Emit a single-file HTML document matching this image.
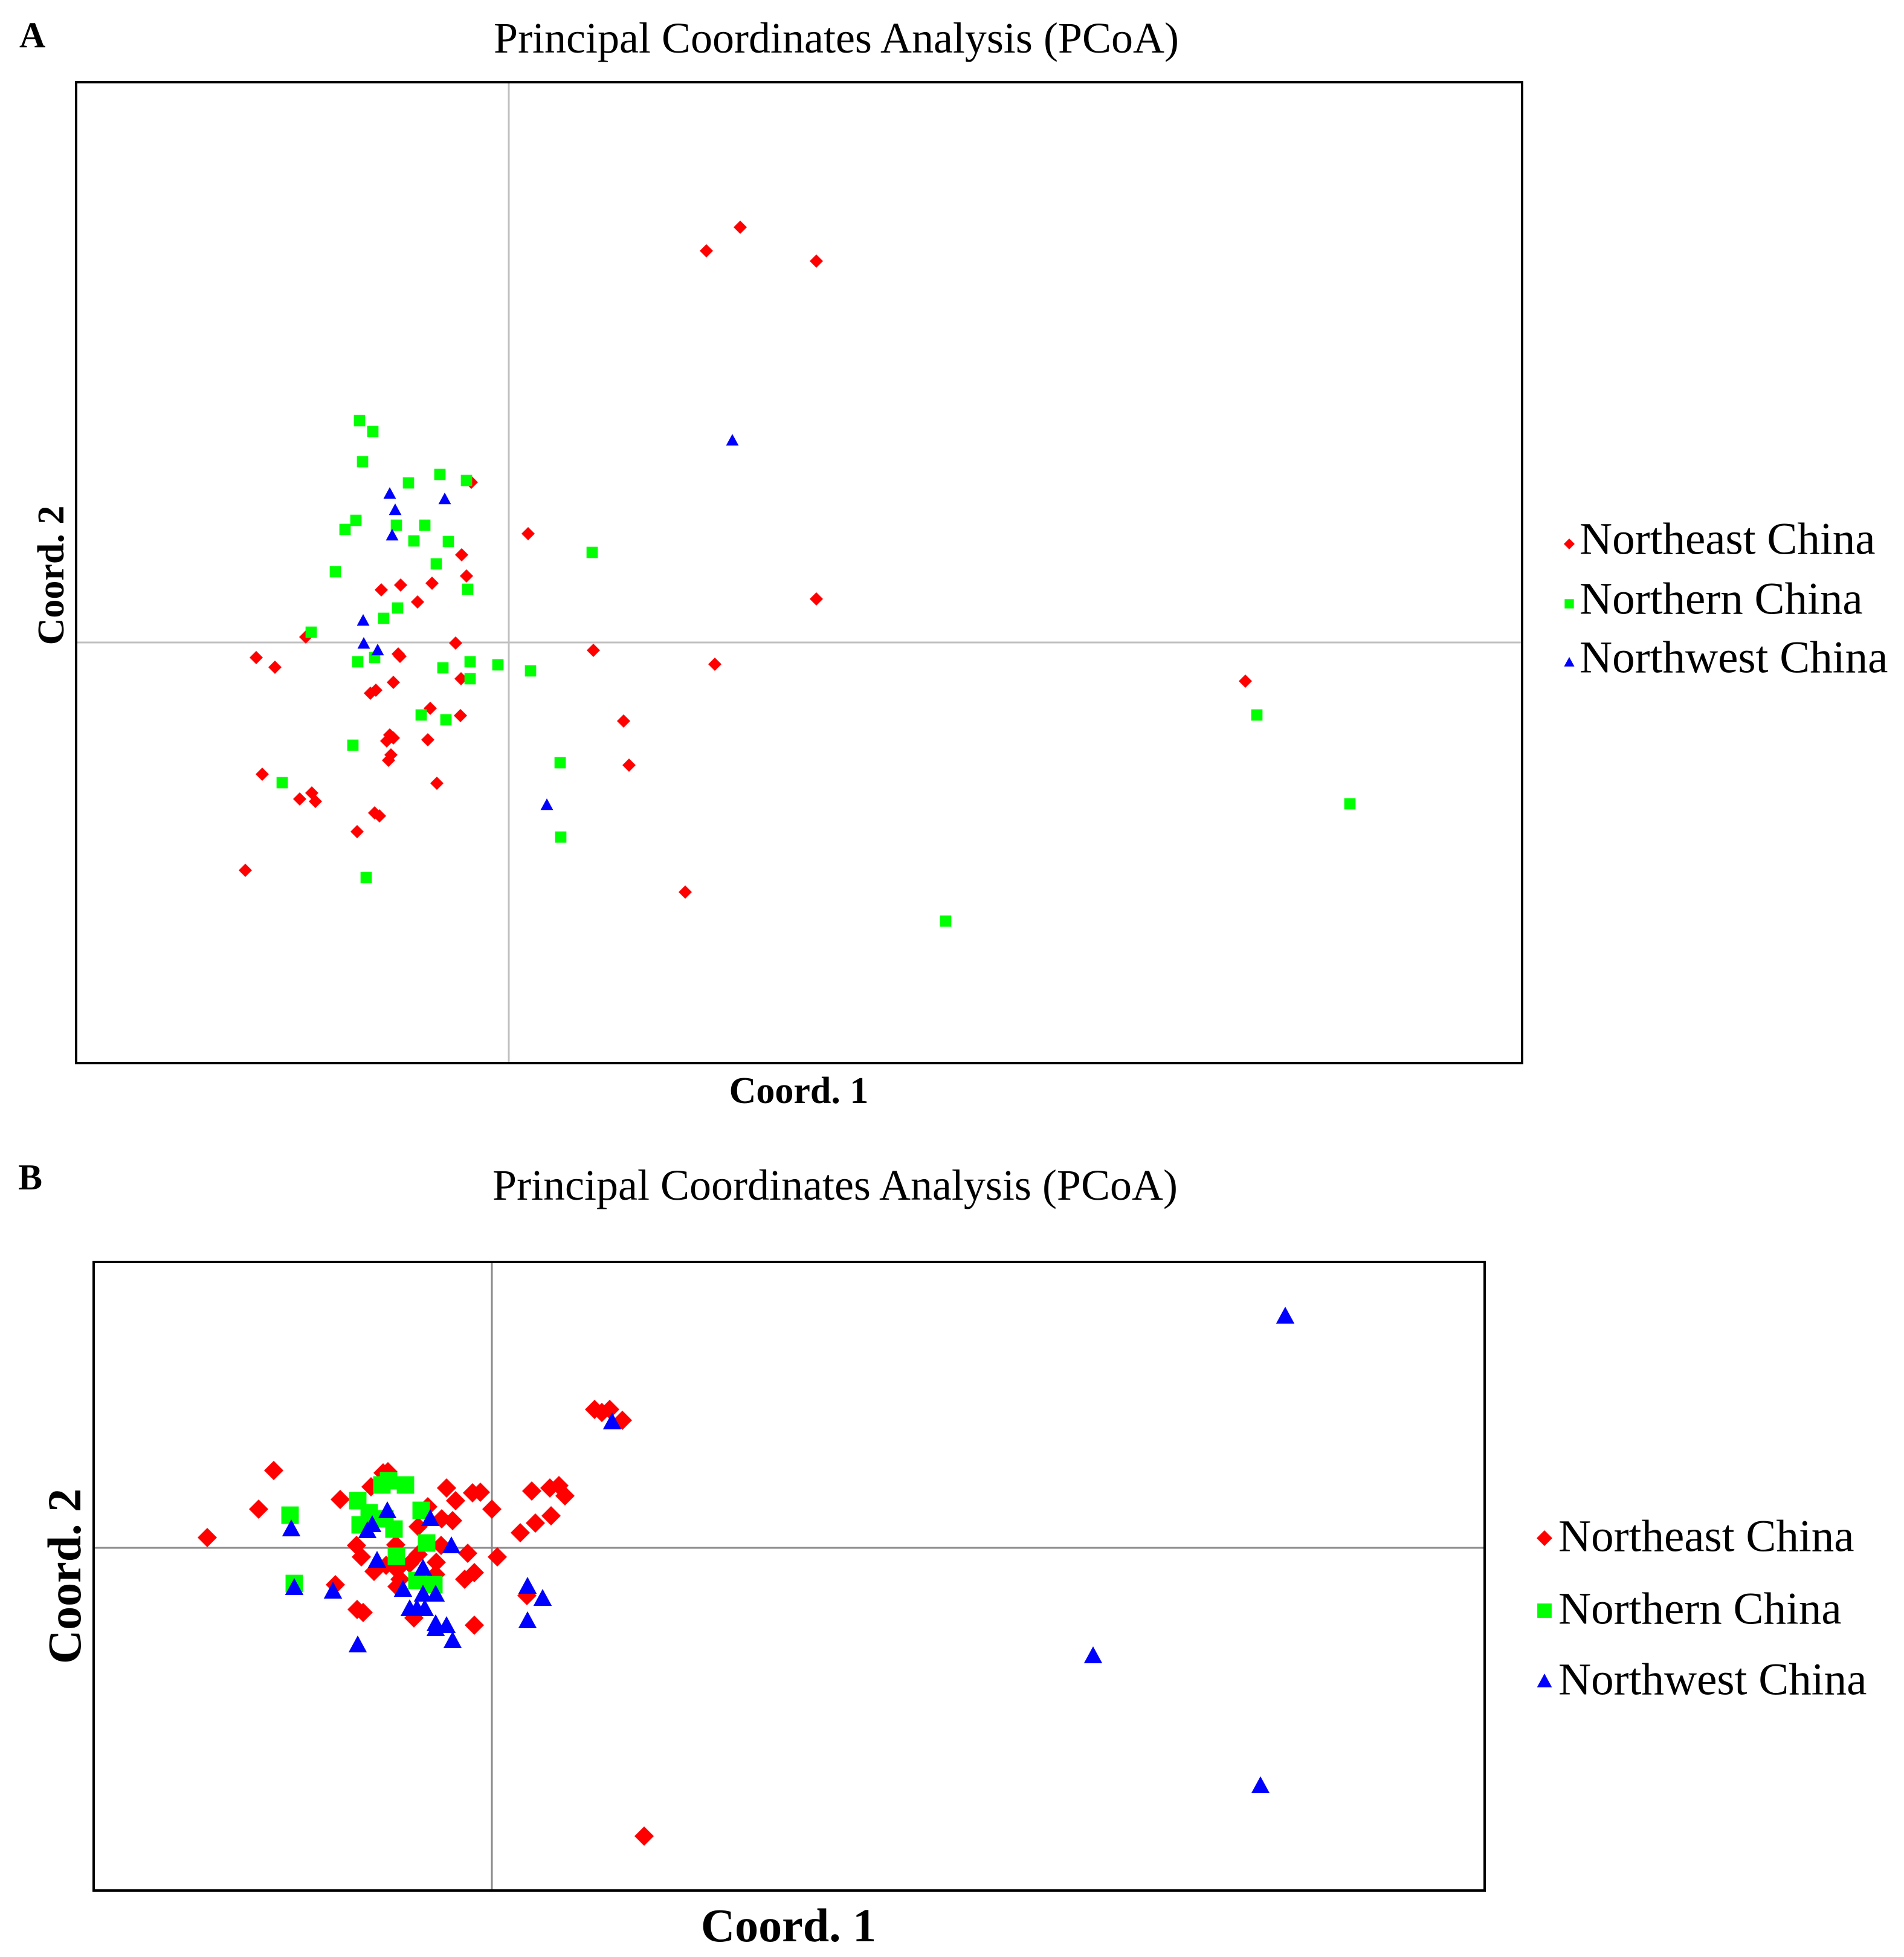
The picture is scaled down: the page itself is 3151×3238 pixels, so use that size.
<!DOCTYPE html>
<html><head><meta charset="utf-8"><style>
html,body{margin:0;padding:0;background:#fff;}
svg{display:block;}
text{font-family:"Liberation Serif",serif;fill:#000;}
</style></head><body>
<svg id="s" width="3151" height="3238" viewBox="0 0 3151 3238" xmlns="http://www.w3.org/2000/svg">
<text x="32" y="78" font-size="60" font-weight="bold">A</text>
<text x="1384" y="87" font-size="72" text-anchor="middle">Principal Coordinates Analysis (PCoA)</text>
<text x="1322" y="1825" font-size="62" font-weight="bold" text-anchor="middle">Coord. 1</text>
<text transform="translate(105,952) rotate(-90)" font-size="62" font-weight="bold" text-anchor="middle">Coord. 2</text>
<text x="30" y="1968" font-size="60" font-weight="bold">B</text>
<text x="1382" y="1985" font-size="72" text-anchor="middle">Principal Coordinates Analysis (PCoA)</text>
<text x="1305" y="3212" font-size="78" font-weight="bold" text-anchor="middle">Coord. 1</text>
<text transform="translate(133,2608) rotate(-90)" font-size="78" font-weight="bold" text-anchor="middle">Coord. 2</text>
</svg>
<script>
const seriesNames=["Northeast China","Northern China","Northwest China"];
const aRedX=[-0.62,0.32,-0.78,-0.70,-2.11,-1.79,-1.27,-1.51,-3.36,-4.18,-3.87,-0.88,-1.80,-1.83,1.40,-0.79,-1.91,-2.29,-2.20,-1.30,-0.80,1.90,-1.97,-2.02,-1.91,-1.34,-1.95,-1.99,1.99,-4.08,-1.19,-3.46,-3.26,-3.20,-2.22,-2.14,-2.51,-4.36,3.83,3.27,5.09,5.09,3.41,2.92,12.19];
const aRedY=[2.65,1.80,1.45,1.10,0.87,0.95,0.98,0.67,0.09,-0.25,-0.41,-0.01,-0.23,-0.19,-0.13,-0.60,-0.66,-0.84,-0.79,-1.09,-1.21,-1.30,-1.53,-1.63,-1.58,-1.61,-1.86,-1.95,-2.03,-2.18,-2.33,-2.59,-2.49,-2.63,-2.82,-2.87,-3.13,-3.77,6.87,6.48,6.31,0.72,-0.36,-4.13,-0.64];
const aGreenX=[-2.47,-2.25,-2.42,-1.66,-1.14,-0.70,-2.53,-2.71,-1.86,-1.39,-1.57,-1.00,1.38,-1.20,-2.87,-0.68,-1.84,-2.07,-3.27,-2.50,-2.22,-1.09,-0.64,-0.18,0.36,-0.64,-1.45,-1.04,-2.58,0.85,-3.75,0.86,-2.36,7.23,12.38,13.92];
const aGreenY=[3.67,3.49,2.99,2.64,2.78,2.68,2.02,1.87,1.94,1.94,1.68,1.67,1.49,1.30,1.17,0.88,0.57,0.40,0.17,-0.32,-0.25,-0.42,-0.32,-0.37,-0.47,-0.60,-1.20,-1.28,-1.70,-1.99,-2.32,-3.22,-3.89,-4.61,-1.20,-2.67];
const aBlueX=[-1.97,-1.88,-1.93,-1.06,-2.41,-2.40,-2.17,0.63,3.70];
const aBlueY=[2.46,2.19,1.77,2.37,0.36,-0.02,-0.13,-2.69,3.34];
const bRedX=[1.70,1.82,1.95,2.16,-3.61,-3.86,-4.71,-2.51,-1.80,-1.72,-2.00,-0.75,-0.60,-0.32,-0.19,0.00,0.66,0.96,1.11,1.21,0.98,0.72,0.47,-0.83,-0.65,-1.22,-1.06,-2.24,-1.59,-0.84,-2.16,-0.40,0.09,-1.22,-1.36,-0.92,-1.95,-1.75,-1.57,-0.45,-0.29,-2.59,-1.52,-1.57,-0.93,-2.23,-2.13,-1.29,-0.29,0.58,2.52];
const bRedY=[2.29,2.24,2.29,2.11,1.28,0.64,0.17,0.80,1.24,1.26,1.01,0.99,0.78,0.91,0.92,0.64,0.94,0.99,1.03,0.86,0.53,0.41,0.25,0.48,0.45,0.35,0.68,0.04,0.05,0.04,-0.15,-0.09,-0.15,-0.11,-0.26,-0.24,-0.39,-0.29,-0.36,-0.52,-0.41,-0.61,-0.52,-0.64,-0.44,-1.02,-1.07,-1.16,-1.28,-0.79,-4.77];
const bGreenX=[-1.71,-1.82,-1.43,-2.22,-3.34,-1.17,-2.03,-2.18,-1.62,-1.08,-1.58,-3.27,-1.24,-0.96,-1.77];
const bGreenY=[1.11,1.04,1.04,0.78,0.54,0.62,0.58,0.38,0.31,0.08,-0.14,-0.59,-0.54,-0.61,0.48];
const bBlueX=[1.99,-1.73,-1.02,-1.98,-2.06,-3.32,-0.67,-1.90,-1.14,-3.27,-2.63,-1.47,-1.14,-0.93,-1.36,-1.24,-1.11,-0.93,-0.75,-0.93,-0.65,-2.22,0.59,0.84,0.59,13.13,9.95,12.72];
const bBlueY=[2.08,0.61,0.48,0.38,0.28,0.31,0.03,-0.21,-0.34,-0.66,-0.72,-0.69,-0.77,-0.77,-1.01,-1.01,-1.01,-1.26,-1.29,-1.34,-1.54,-1.61,-0.64,-0.84,-1.21,3.83,-1.79,-3.94];

const NS="http://www.w3.org/2000/svg";
const svg=document.getElementById('s');
function mk(tag,attrs,parent){const e=document.createElementNS(NS,tag);for(const k in attrs)e.setAttribute(k,attrs[k]);(parent||svg).appendChild(e);return e;}
function scale(d0,d1,r0,r1){return v=>r0+(v-d0)/(d1-d0)*(r1-r0);}
function marker(g,kind,cx,cy,s){
  let e;
  if(kind===0){e=mk('polygon',{points:`${cx},${cy-s} ${cx+s},${cy} ${cx},${cy+s} ${cx-s},${cy}`,fill:'#ff0000'},g);}
  else if(kind===1){const h=s*0.85;e=mk('rect',{x:cx-h,y:cy-h,width:2*h,height:2*h,fill:'#00ff00'},g);}
  else {const h=s*1.0;e=mk('polygon',{points:`${cx},${cy-h} ${cx+h*0.95},${cy+h*0.75} ${cx-h*0.95},${cy+h*0.75}`,fill:'#0000ff'},g);}
  return e;
}
function panel(p,box,dom,cross,series,ms,leg){
  const sx=scale(dom[0],dom[1],box[0],box[2]), sy=scale(dom[2],dom[3],box[1],box[3]);
  const g=mk('g',{});
  
  
  const vl=mk('line',{x1:sx(0),x2:sx(0),y1:box[1],y2:box[3],stroke:cross,'stroke-width':3},g);
  
  
  const hl=mk('line',{x1:box[0],x2:box[2],y1:sy(0),y2:sy(0),stroke:cross,'stroke-width':3},g);
  
  
  series.forEach((sr,k)=>{
    const sg=mk('g',{},g);
    
    
    sr[0].forEach((x,i)=>{
      const m=marker(sg,k,sx(x),sy(sr[1][i]),ms[k]);
      
      
    });
  });
  const fr=mk('rect',{x:box[0],y:box[1],width:box[2]-box[0],height:box[3]-box[1],fill:'none',stroke:'#000','stroke-width':4},g);
  
  
  const lg=mk('g',{});
  
  
  seriesNames.forEach((n,k)=>{
    const y=leg.ys[k];
    const m=marker(lg,k,leg.mx,y+leg.moff,leg.ms[k]);
    
    
    const t=mk('text',{x:leg.tx,y:y+leg.fs*0.35,'font-size':leg.fs},lg);
    t.textContent=n;
    
    
  });
}
panel('panel-a',[126,136,2519,1759],[-7.16,16.77,9.27,-6.96],'#c0c0c0',
  [[aRedX,aRedY],[aGreenX,aGreenY],[aBlueX,aBlueY]],[11,11,11],
  {mx:2597,tx:2614,ys:[890,989,1086],fs:75,moff:10,ms:[9,9,9]});
panel('panel-b',[155,2088,2457,3128],[-6.59,16.43,4.73,-5.67],'#8a8a8a',
  [[bRedX,bRedY],[bGreenX,bGreenY],[bBlueX,bBlueY]],[16,17,16],
  {mx:2556,tx:2579,ys:[2540,2660,2777],fs:75,moff:5,ms:[13,14,13]});
</script>
</body></html>
